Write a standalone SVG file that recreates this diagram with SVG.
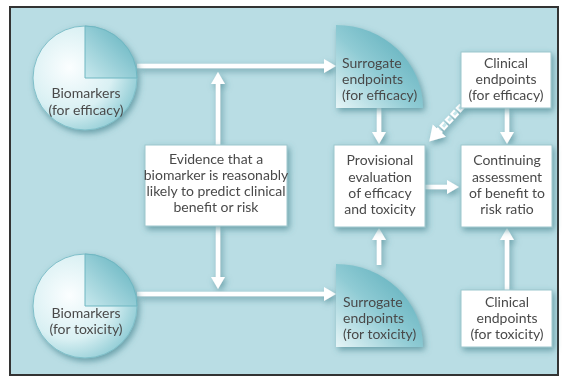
<svg xmlns="http://www.w3.org/2000/svg" width="562" height="379" viewBox="0 0 562 379">
<style>
text{font-family:Lato,"Open Sans","Liberation Sans",sans-serif;font-size:14px;fill:#4a4a4a}
.c{text-anchor:middle}
.box{fill:#ffffff;stroke:#9cc7ce;stroke-width:1}
.arr{stroke:#ffffff;stroke-width:4.5;fill:none;marker-end:url(#ah)}
</style>
<defs>
<radialGradient id="cg" cx="0.35" cy="0.4" r="0.7">
<stop offset="0" stop-color="#fbfeff"/>
<stop offset="0.6" stop-color="#d9f0f3"/>
<stop offset="1" stop-color="#8ecbd4"/>
</radialGradient>
<linearGradient id="qg" x1="1" y1="0" x2="0" y2="1">
<stop offset="0" stop-color="#5aaebb"/>
<stop offset="1" stop-color="#c7e8ed"/>
</linearGradient>
<linearGradient id="sg" x1="1" y1="0" x2="0" y2="1">
<stop offset="0" stop-color="#4fa6b4"/>
<stop offset="0.55" stop-color="#8fcbd4"/>
<stop offset="1" stop-color="#e6f5f7"/>
</linearGradient>
<filter id="sh" x="-20%" y="-20%" width="150%" height="150%">
<feDropShadow dx="2" dy="3" stdDeviation="3" flood-color="#3c7f8a" flood-opacity="0.65"/>
</filter>
<marker id="ah" markerUnits="userSpaceOnUse" markerWidth="16" markerHeight="16" refX="2" refY="7" orient="auto">
<path d="M0,0 L12,7 L0,14 Z" fill="#ffffff"/>
</marker>
<marker id="dh" markerUnits="userSpaceOnUse" markerWidth="20" markerHeight="20" refX="2" refY="9" orient="auto">
<path d="M0,0 L15,9 L0,18 Z" fill="#ffffff"/>
</marker>
</defs>
<rect x="0" y="0" width="562" height="379" fill="#ffffff"/>
<rect x="10" y="7" width="548" height="368" fill="#b9dde4" stroke="#333333" stroke-width="2"/>

<g id="connectors" filter="url(#sh)">
<line class="arr" x1="137" y1="66" x2="326" y2="66"/>
<line class="arr" x1="137" y1="294" x2="326" y2="294"/>
<line class="arr" x1="218" y1="145" x2="218" y2="82"/>
<line class="arr" x1="218" y1="226" x2="218" y2="279"/>
<line class="arr" x1="379" y1="108" x2="379" y2="134"/>
<line class="arr" x1="379" y1="265" x2="379" y2="238"/>
<line class="arr" x1="507" y1="108" x2="507" y2="134"/>
<line class="arr" x1="507" y1="290" x2="507" y2="238"/>
<line class="arr" x1="425" y1="187" x2="449" y2="187"/>
<line x1="462" y1="106" x2="438" y2="132" stroke="#ffffff" stroke-width="7" stroke-dasharray="6 2" marker-end="url(#dh)"/>
<line x1="462" y1="106" x2="440" y2="130" stroke="#c6e6eb" stroke-width="3" stroke-dasharray="4 4"/>
</g>

<g id="bio-eff" filter="url(#sh)">
<circle cx="85" cy="78" r="52" fill="url(#cg)" stroke="#7fbfc9" stroke-width="1"/>
<path d="M85,78 L85,26 A52,52 0 0 1 137,78 Z" fill="url(#qg)" stroke="#6fb6c1" stroke-width="1"/>
<text class="c" x="86" y="98">Biomarkers</text>
<text class="c" x="86" y="115">(for efficacy)</text>
</g>

<g id="bio-tox" filter="url(#sh)">
<circle cx="85" cy="306" r="52" fill="url(#cg)" stroke="#7fbfc9" stroke-width="1"/>
<path d="M85,306 L85,254 A52,52 0 0 1 137,306 Z" fill="url(#qg)" stroke="#6fb6c1" stroke-width="1"/>
<text class="c" x="86" y="318">Biomarkers</text>
<text class="c" x="86" y="334">(for toxicity)</text>
</g>

<g id="evidence" filter="url(#sh)">
<rect class="box" x="145" y="145" width="142" height="81"/>
<text class="c" x="216" y="164">Evidence that a</text>
<text class="c" x="216" y="180">biomarker is reasonably</text>
<text class="c" x="216" y="196">likely to predict clinical</text>
<text class="c" x="216" y="212">benefit or risk</text>
</g>

<g id="surr-eff" filter="url(#sh)">
<path d="M336,108 L336,25 A87,83 0 0 1 423,108 Z" fill="url(#sg)"/>
<text x="342" y="68">Surrogate</text>
<text x="342" y="84">endpoints</text>
<text x="342" y="100">(for efficacy)</text>
</g>

<g id="surr-tox" filter="url(#sh)">
<path d="M336,347 L336,264 A87,83 0 0 1 423,347 Z" fill="url(#sg)"/>
<text x="343" y="307">Surrogate</text>
<text x="343" y="323">endpoints</text>
<text x="343" y="339">(for toxicity)</text>
</g>

<g id="clin-eff" filter="url(#sh)">
<rect class="box" x="461" y="52" width="90" height="56"/>
<text class="c" x="506" y="68">Clinical</text>
<text class="c" x="506" y="84">endpoints</text>
<text class="c" x="506" y="100">(for efficacy)</text>
</g>

<g id="provisional" filter="url(#sh)">
<rect class="box" x="334" y="145" width="91" height="82"/>
<text class="c" x="380" y="165">Provisional</text>
<text class="c" x="380" y="182">evaluation</text>
<text class="c" x="380" y="198">of efficacy</text>
<text class="c" x="380" y="214">and toxicity</text>
</g>

<g id="continuing" filter="url(#sh)">
<rect class="box" x="461" y="145" width="91" height="82"/>
<text class="c" x="507" y="165">Continuing</text>
<text class="c" x="507" y="182">assessment</text>
<text class="c" x="507" y="198">of benefit to</text>
<text class="c" x="507" y="214">risk ratio</text>
</g>

<g id="clin-tox" filter="url(#sh)">
<rect class="box" x="461" y="290" width="91" height="57"/>
<text class="c" x="507" y="307">Clinical</text>
<text class="c" x="507" y="323">endpoints</text>
<text class="c" x="507" y="339">(for toxicity)</text>
</g>
</svg>
